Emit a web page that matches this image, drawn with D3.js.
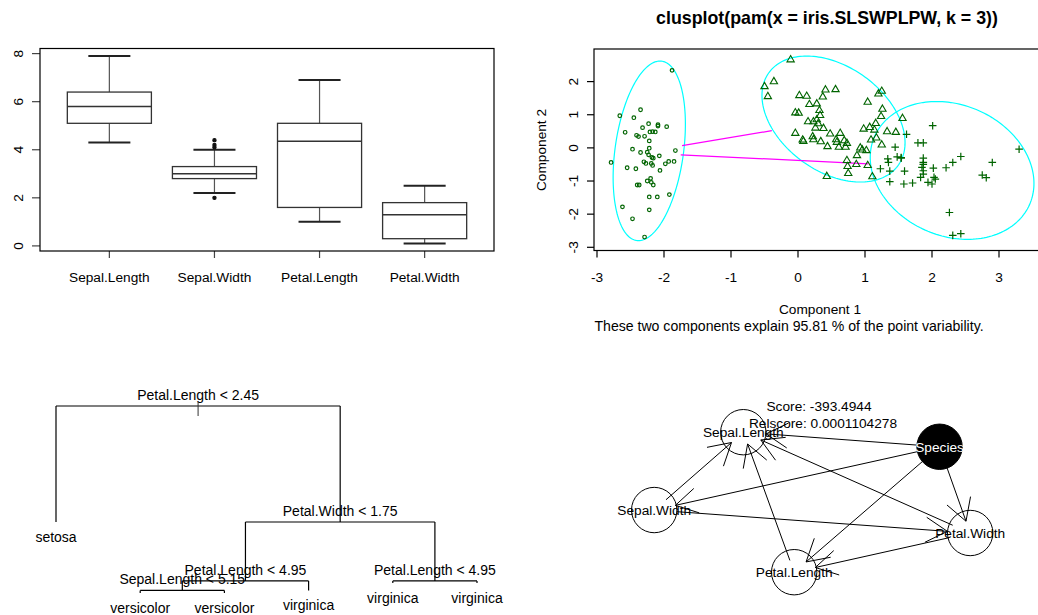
<!DOCTYPE html>
<html><head><meta charset="utf-8">
<script src="https://cdn.jsdelivr.net/npm/d3@7"></script>
<style>
body{margin:0;background:#fff}
svg text{font-family:"Liberation Sans",Arial,Helvetica,sans-serif;fill:#000}
</style>
</head><body>
<svg id="c" width="1038" height="615"></svg>
<script>
// ================= DATA =================
// Panel 1: boxplot of iris measurements
const boxVars  = ["Sepal.Length","Sepal.Width","Petal.Length","Petal.Width"];
const boxLow   = [4.3, 2.2, 1.0, 0.1];
const boxQ1    = [5.1, 2.8, 1.6, 0.3];
const boxMed   = [5.8, 3.0, 4.35, 1.3];
const boxQ3    = [6.4, 3.3, 5.1, 1.8];
const boxHigh  = [7.9, 4.0, 6.9, 2.5];
const boxOutIdx = [2, 2, 2, 2];
const boxOutVal = [4.4, 4.2, 4.1, 2.0];
const boxYTicks = [0, 2, 4, 6, 8];

// Panel 2: clusplot (component scores per cluster)
const setosaPC1 = [-1.88,-2.35,-2.66,-2.45,-2.32,-2.23,-2.09,-2.09,-1.96,-2.58,-2.41,-2.38,-2.29,-2.21,-2.17,-2.13,-2.22,-2.22,-2.47,-2.35,-2.25,-2.23,-2.18,-2.16,-2.07,-1.83,-2.79,-2.30,-2.27,-2.19,-2.17,-1.98,-1.93,-1.85,-2.55,-2.42,-2.06,-2.25,-2.20,-2.19,-2.16,-2.40,-2.37,-2.22,-2.10,-1.92,-2.62,-2.22,-2.47,-2.29];
const setosaPC2 = [2.34,1.15,0.97,0.91,0.61,0.73,0.70,0.66,0.64,0.47,0.38,0.34,0.35,0.48,0.49,0.48,0.21,-0.01,-0.04,-0.14,-0.13,-0.21,-0.29,-0.31,-0.24,-0.08,-0.44,-0.42,-0.47,-0.47,-0.53,-0.48,-0.41,-0.41,-0.60,-0.63,-0.68,-1.00,-0.92,-1.04,-1.12,-1.12,-1.12,-1.48,-1.48,-1.41,-1.78,-1.87,-2.14,-2.69];
const versiPC1 = [-0.11,-0.50,-0.36,-0.45,0.02,0.13,0.41,0.56,0.37,0.28,0.17,-0.04,0.01,0.32,0.33,0.28,0.15,0.23,0.26,0.38,-0.04,0.07,0.08,0.22,0.23,0.34,0.48,0.63,0.44,0.58,0.61,0.69,0.73,0.71,1.04,1.20,1.25,1.26,1.24,1.16,1.07,0.98,1.14,1.17,1.09,1.33,1.46,1.56,1.25,0.93,0.96,1.02,0.88,0.73,0.74,0.75,0.87,1.04,1.11,0.43,0.30,0.57];
const versiPC2 = [2.66,1.85,2.00,1.55,1.58,1.56,1.75,1.76,1.54,1.33,1.31,1.06,1.05,1.13,0.98,0.85,0.79,0.79,0.60,0.59,0.44,0.24,0.20,0.34,0.25,0.19,0.42,0.44,0.04,0.17,0.02,0.22,0.14,0.02,1.38,1.63,1.71,1.17,0.95,0.74,0.62,0.57,0.54,0.30,0.24,0.49,0.47,0.89,0.09,0.00,-0.06,-0.08,-0.23,-0.38,-0.56,-0.77,-0.50,-0.53,-0.87,-0.86,0.73,0.25];
const virgiPC1 = [2.01,1.62,1.79,1.87,1.45,3.30,1.34,1.35,1.48,1.54,1.87,1.87,1.85,1.87,1.87,2.43,2.31,2.90,2.21,2.02,1.23,1.37,1.59,1.83,2.03,2.05,1.94,2.00,1.37,1.58,1.71,2.75,2.81,2.26,2.31,2.43,1.87,1.54];
const virgiPC2 = [0.67,0.41,0.15,0.15,0.02,-0.04,-0.33,-0.44,-0.27,-0.31,-0.31,-0.44,-0.59,-0.69,-0.79,-0.26,-0.44,-0.44,-0.60,-0.61,-0.63,-0.70,-0.70,-0.89,-0.89,-0.94,-1.04,-1.09,-1.02,-1.09,-1.06,-0.82,-0.90,-1.95,-2.64,-2.59,-0.50,-0.29];
// spanning ellipses: centre and axis vectors (data units)
const ellCX = [-2.22, 0.53, 2.30];
const ellCY = [-0.09, 0.87, -0.68];
const ellAX = [0.16, -0.40, -0.23];
const ellBX = [0.515, 0.99, 1.20];
const ellAY = [2.71, 1.90, 2.08];
// segments between clusters
const segX0 = [-1.73, -1.75], segY0 = [0.07, -0.21];
const segX1 = [-0.39, 1.05],  segY1 = [0.52, -0.48];
const pcXTicks = [-3,-2,-1,0,1,2,3];
const pcYTicks = [-3,-2,-1,0,1,2];

// Panel 3: classification tree
const treeLabels = ["Petal.Length < 2.45","setosa","Petal.Width < 1.75","Petal.Length < 4.95","Sepal.Length < 5.15","versicolor","versicolor","virginica","Petal.Length < 4.95","virginica","virginica"];
const treeParent = [-1, 0, 0, 2, 3, 4, 4, 3, 2, 8, 8];
const treeLeafPos = [null, 1, null, null, null, 2, 3, 4, null, 5, 6];
const treeDepth = [0, 50, 50, 75.4, 79.5, 80.6, 80.6, 79.5, 75.4, 76.3, 76.3];

// Panel 4: Bayesian network
const gNodes  = ["Sepal.Length","Species","Sepal.Width","Petal.Width","Petal.Length"];
const gNodeX  = [28.2, 90.3, 0, 100, 44.3];
const gNodeY  = [0, 10.4, 55.6, 72, 100];
const gFilled = ["Species"];
const gEdgeFrom = ["Sepal.Width","Species","Petal.Width","Petal.Length","Species","Species","Species","Sepal.Width","Petal.Width"];
const gEdgeTo   = ["Sepal.Length","Sepal.Length","Sepal.Length","Sepal.Length","Sepal.Width","Petal.Length","Petal.Width","Petal.Width","Petal.Length"];
const gScoreLines = ["Score: -393.4944", "Relscore: 0.0001104278"];

// ================= DRAW =================
const svg = d3.select("#c");
const FS = 13.7;

function line(g, x1, y1, x2, y2, col, w) {
  return g.append("line").attr("x1", x1).attr("y1", y1).attr("x2", x2).attr("y2", y2)
    .attr("stroke", col || "#000").attr("stroke-width", w || 1);
}
function txt(g, x, y, s, opts) {
  opts = opts || {};
  const t = g.append("text").attr("x", x).attr("y", y).text(s)
    .attr("font-size", opts.size || FS).attr("text-anchor", opts.anchor || "middle");
  if (opts.rot) t.attr("transform", `rotate(-90,${x},${y})`);
  if (opts.bold) t.attr("font-weight", "bold");
  if (opts.fill) t.style("fill", opts.fill);
  return t;
}

// ---------- Panel 1: boxplot ----------
(function () {
  const g = svg.append("g");
  const L = 40, R = 494, T = 48.5, B = 251;
  const all = boxLow.concat(boxHigh, boxOutVal);
  const lo = d3.min(all), hi = d3.max(all), ext = 0.04 * (hi - lo);
  const x = d3.scaleLinear().domain([0.5 - 0.16, boxVars.length + 0.5 + 0.16]).range([L, R]);
  const y = d3.scaleLinear().domain([lo - ext, hi + ext]).range([B, T]);
  const hw = 0.4, sw = 0.2;
  boxVars.forEach((v, i) => {
    const c = i + 1;
    line(g, x(c), y(boxQ3[i]), x(c), y(boxHigh[i]), "#555", 1.2);
    line(g, x(c), y(boxQ1[i]), x(c), y(boxLow[i]), "#555", 1.2);
    line(g, x(c - sw), y(boxHigh[i]), x(c + sw), y(boxHigh[i]), "#222", 2);
    line(g, x(c - sw), y(boxLow[i]), x(c + sw), y(boxLow[i]), "#222", 2);
    g.append("rect").attr("x", x(c - hw)).attr("y", y(boxQ3[i]))
      .attr("width", x(c + hw) - x(c - hw)).attr("height", y(boxQ1[i]) - y(boxQ3[i]))
      .attr("fill", "none").attr("stroke", "#333").attr("stroke-width", 1.3);
    line(g, x(c - hw), y(boxMed[i]), x(c + hw), y(boxMed[i]), "#333", 1.5);
    line(g, x(c), B, x(c), B + 7, "#444", 1.2);
    txt(g, x(c), 282, v);
  });
  boxOutVal.forEach((v, k) => {
    g.append("circle").attr("cx", x(boxOutIdx[k])).attr("cy", y(v)).attr("r", 1.6)
      .attr("fill", "#111").attr("stroke", "#111").attr("stroke-width", 1.2);
  });
  boxYTicks.forEach(t => {
    line(g, L - 8, y(t), L, y(t), "#444", 1.2);
    txt(g, 23, y(t), String(t), { rot: true });
  });
  g.append("rect").attr("x", L).attr("y", T).attr("width", R - L).attr("height", B - T)
    .attr("fill", "none").attr("stroke", "#000").attr("stroke-width", 1.2);
})();

// ---------- Panel 2: clusplot ----------
(function () {
  const g = svg.append("g");
  const L = 594, T = 49, B = 250.5;
  const x = d3.scaleLinear().domain([-3, 3]).range([597, 999]);
  const y = d3.scaleLinear().domain([-3, 2]).range([247.3, 81.6]);
  const green = "#006400";
  const ts = d3.range(0, 2 * Math.PI + 0.001, Math.PI / 90);
  ellCX.forEach((cx, i) => {
    const pts = ts.map(t => [x(cx + ellAX[i] * Math.cos(t) + ellBX[i] * Math.sin(t)),
                             y(ellCY[i] + ellAY[i] * Math.cos(t))]);
    g.append("path").attr("d", d3.line()(pts)).attr("fill", "none")
      .attr("stroke", "#00FFFF").attr("stroke-width", 1.2);
  });
  segX0.forEach((v, i) => line(g, x(v), y(segY0[i]), x(segX1[i]), y(segY1[i]), "#FF00FF", 1.2));
  setosaPC1.forEach((v, i) => g.append("circle").attr("cx", x(v)).attr("cy", y(setosaPC2[i]))
    .attr("r", 1.8).attr("fill", "none").attr("stroke", green).attr("stroke-width", 1.2));
  versiPC1.forEach((v, i) => g.append("path").attr("d", "M0,-4.2L3.65,2.1L-3.65,2.1Z")
    .attr("transform", `translate(${x(v)},${y(versiPC2[i])})`)
    .attr("fill", "none").attr("stroke", green).attr("stroke-width", 1.1));
  virgiPC1.forEach((v, i) => g.append("path").attr("d", "M-3.8,0H3.8M0,-3.8V3.8")
    .attr("transform", `translate(${x(v)},${y(virgiPC2[i])})`)
    .attr("fill", "none").attr("stroke", green).attr("stroke-width", 1.2));
  g.append("rect").attr("x", L).attr("y", T).attr("width", 1060 - L).attr("height", B - T)
    .attr("fill", "none").attr("stroke", "#000").attr("stroke-width", 1.2);
  pcXTicks.forEach(t => {
    line(g, x(t), B, x(t), B + 7, "#000", 1.2);
    txt(g, x(t), 282, String(t));
  });
  line(g, x(pcXTicks[0]), B, x(pcXTicks[pcXTicks.length - 1]), B, "#000", 1.2);
  pcYTicks.forEach(t => {
    line(g, L - 7, y(t), L, y(t), "#000", 1.2);
    txt(g, 578, y(t), String(t), { rot: true });
  });
  txt(g, 546, 150, "Component 2", { rot: true });
  txt(g, 820, 314, "Component 1");
  txt(g, 789, 331, "These two components explain 95.81 % of the point variability.", { size: 14.1 });
  txt(g, 827, 24, "clusplot(pam(x = iris.SLSWPLPW, k = 3))", { bold: true, size: 17.8 });
})();

// ---------- Panel 3: tree ----------
(function () {
  const g = svg.append("g");
  const x = d3.scaleLinear().domain([1, 6]).range([56, 477]);
  const y = d3.scaleLinear().domain([0, 50]).range([406, 522]);
  const n = treeLabels.length;
  const children = d3.range(n).map(() => []);
  treeParent.forEach((p, i) => { if (p >= 0) children[p].push(i); });
  const pos = treeLeafPos.slice();
  function getPos(i) {
    if (pos[i] == null) { const c = children[i]; pos[i] = (getPos(c[0]) + getPos(c[1])) / 2; }
    return pos[i];
  }
  for (let i = 0; i < n; i++) getPos(i);
  for (let i = 0; i < n; i++) {
    const c = children[i];
    if (c.length) {
      line(g, x(pos[c[0]]), y(treeDepth[i]), x(pos[c[1]]), y(treeDepth[i]), "#000", 1.2);
      c.forEach(k => line(g, x(pos[k]), y(treeDepth[i]), x(pos[k]), y(treeDepth[k]), "#000", 1.2));
    }
  }
  for (let i = 0; i < n; i++) {
    if (children[i].length) txt(g, x(pos[i]), y(treeDepth[i]) - 6, treeLabels[i], { size: 14 });
    else txt(g, x(pos[i]), y(treeDepth[i]) + 20, treeLabels[i], { size: 14 });
  }
  // root marker
  line(g, x(pos[0]), y(treeDepth[0]) - 4, x(pos[0]), y(treeDepth[0]) + 10, "#333", 1);
})();

// ---------- Panel 4: network ----------
(function () {
  const g = svg.append("g");
  const x = d3.scaleLinear().domain([0, 100]).range([654.2, 970.2]);
  const y = d3.scaleLinear().domain([0, 100]).range([432.2, 572.2]);
  const R = 22.7, rx = 23, ry = 12, AL = 25, AA = 30 * Math.PI / 180;
  const idx = name => gNodes.indexOf(name);
  function clip(ux, uy) { return 1 / Math.sqrt((ux / rx) ** 2 + (uy / ry) ** 2); }
  gEdgeFrom.forEach((f, e) => {
    const a = idx(f), b = idx(gEdgeTo[e]);
    const ax = x(gNodeX[a]), ay = y(gNodeY[a]), bx = x(gNodeX[b]), by = y(gNodeY[b]);
    const d = Math.hypot(bx - ax, by - ay), ux = (bx - ax) / d, uy = (by - ay) / d;
    const t = clip(ux, uy);
    const sx = ax + ux * t, sy = ay + uy * t, ex = bx - ux * t, ey = by - uy * t;
    line(g, sx, sy, ex, ey, "#000", 1);
    const back = Math.atan2(-uy, -ux);
    [back + AA, back - AA].forEach(an =>
      line(g, ex, ey, ex + AL * Math.cos(an), ey + AL * Math.sin(an), "#000", 1));
  });
  gNodes.forEach((nm, i) => {
    const filled = gFilled.includes(nm);
    g.append("circle").attr("cx", x(gNodeX[i])).attr("cy", y(gNodeY[i])).attr("r", R)
      .attr("fill", filled ? "#000" : "none").attr("stroke", "#000").attr("stroke-width", 1);
  });
  gNodes.forEach((nm, i) => {
    txt(g, x(gNodeX[i]), y(gNodeY[i]) + 5, nm, { fill: gFilled.includes(nm) ? "#fff" : "#000" });
  });
  txt(g, 819, 411, gScoreLines[0]);
  txt(g, 823, 428, gScoreLines[1]);
})();
</script>
</body></html>
